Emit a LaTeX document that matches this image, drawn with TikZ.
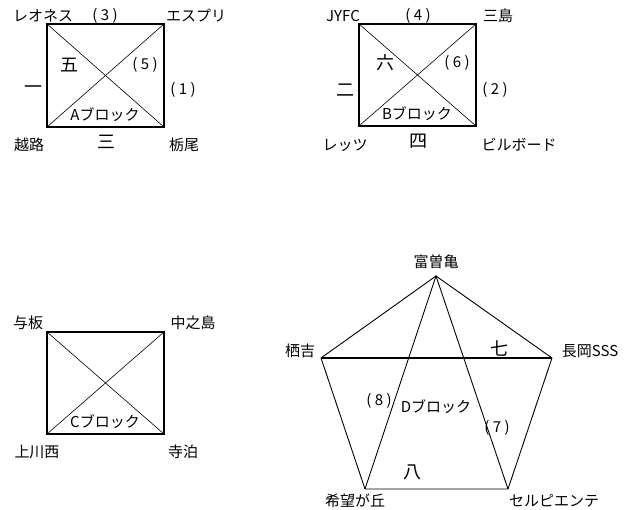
\documentclass[tikz,border=0pt]{standalone}
\usepackage{fontspec}
\setmainfont{Noto Sans CJK JP}
\usepackage{tikz}

\tikzset{
  frame/.style={line width=2pt},
  diag/.style={line width=0.6pt},
  edge/.style={line width=0.9pt},
  lbl/.style={inner sep=0pt, font=\fontsize{15}{17}\selectfont},
  num/.style={inner sep=0pt, font=\fontsize{18}{20}\selectfont},
}

\begin{document}
\begin{tikzpicture}[x=1pt, y=-1pt]
  \useasboundingbox (0,0) rectangle (625,510);
  % A block
  \coordinate (a1) at (47,24);
  \coordinate (a2) at (164,24);
  \coordinate (a3) at (164,127);
  \coordinate (a4) at (47,127);
  \draw[frame] (a1) -- (a2) -- (a3) -- (a4) -- cycle;
  \draw[diag] (a1) -- (a3);
  \draw[diag] (a2) -- (a4);
  \node[lbl] (leo) at (43,16) {レオネス};
  \node[lbl] (n3) at (105,16) {( 3 )};
  \node[lbl] (esp) at (196,16) {エスプリ};
  \node[num] (go) at (69,65) {五};
  \node[lbl] (n5) at (145,65) {( 5 )};
  \node[num] (ichi) at (33,90) {一};
  \node[lbl] (n1) at (183,90) {( 1 )};
  \node[lbl] (ablk) at (105,115) {Aブロック};
  \node[lbl] (koshiji) at (29,145) {越路};
  \node[num] (san) at (106,142) {三};
  \node[lbl] (tochio) at (184,145) {栃尾};
  % B block
  \coordinate (b1) at (359,24);
  \coordinate (b2) at (476,24);
  \coordinate (b3) at (476,126);
  \coordinate (b4) at (359,126);
  \draw[frame] (b1) -- (b2) -- (b3) -- (b4) -- cycle;
  \draw[diag] (b1) -- (b3);
  \draw[diag] (b2) -- (b4);
  \node[lbl] (jyfc) at (343,16) {JYFC};
  \node[lbl] (n4) at (418,16) {( 4 )};
  \node[lbl] (mishima) at (498,16) {三島};
  \node[num] (roku) at (385,63) {六};
  \node[lbl] (n6) at (457,63) {( 6 )};
  \node[num] (ni) at (345,90) {二};
  \node[lbl] (n2) at (495,90) {( 2 )};
  \node[lbl] (bblk) at (417,114) {Bブロック};
  \node[lbl] (lets) at (345,145) {レッツ};
  \node[num] (yon) at (418,141) {四};
  \node[lbl] (bill) at (519,145) {ビルボード};
  % C block
  \coordinate (c1) at (47,332);
  \coordinate (c2) at (164,332);
  \coordinate (c3) at (164,434);
  \coordinate (c4) at (47,434);
  \draw[frame] (c1) -- (c2) -- (c3) -- (c4) -- cycle;
  \draw[diag] (c1) -- (c3);
  \draw[diag] (c2) -- (c4);
  \node[lbl] (yoita) at (28,323) {与板};
  \node[lbl] (nakano) at (193,323) {中之島};
  \node[lbl] (cblk) at (105,422) {Cブロック};
  \node[lbl] (kamikawa) at (37,452) {上川西};
  \node[lbl] (tera) at (183,452) {寺泊};
  % D block
  \coordinate (top) at (436,276);
  \coordinate (left) at (321,358);
  \coordinate (right) at (552,358);
  \coordinate (bl) at (365,489);
  \coordinate (br) at (508,489);
  \draw[edge] (top) -- (left);
  \draw[edge] (top) -- (right);
  \draw[edge, line width=1.5pt] (left) -- (right);
  \draw[edge] (left) -- (bl) -- (br) -- (right);
  \draw[edge] (bl) -- (top) -- (br);
  \node[lbl] (tosokame) at (436,262) {富曽亀};
  \node[lbl] (sukiyoshi) at (300,351) {栖吉};
  \node[lbl] (nagaoka) at (590,351) {長岡SSS};
  \node[num] (nana) at (499,349) {七};
  \node[lbl] (n8) at (379,401) {( 8 )};
  \node[lbl] (dblk) at (436,407) {Dブロック};
  \node[lbl] (n7) at (497,428) {( 7 )};
  \node[num] (hachi) at (412,472) {八};
  \node[lbl] (kibou) at (355,501) {希望が丘};
  \node[lbl] (serpi) at (554,501) {セルピエンテ};
\end{tikzpicture}
\end{document}
